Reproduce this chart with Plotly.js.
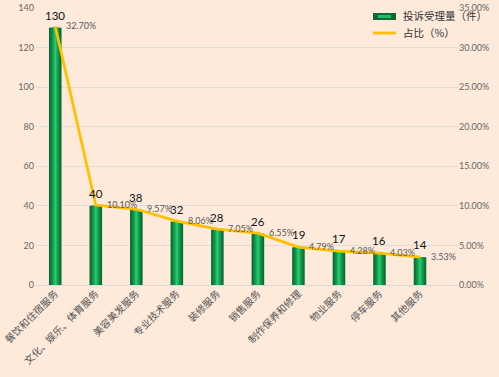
<!DOCTYPE html>
<html>
<head>
<meta charset="utf-8">
<script src="https://cdn.plot.ly/plotly-3.0.1.min.js"></script>
<style>html,body{margin:0;padding:0;background:#FDEADB;}#chart{width:499px;height:377px;}</style>
</head>
<body>
<div id="chart"></div>
<script>
const categories = ['餐饮和住宿服务','文化、娱乐、体育服务','美容美发服务','专业技术服务','装修服务','销售服务','制作保养和修理','物业服务','停车服务','其他服务'];
const counts = [130, 40, 38, 32, 28, 26, 19, 17, 16, 14];
const shares = [0.3270, 0.1010, 0.0957, 0.0806, 0.0706, 0.0655, 0.0479, 0.0428, 0.0403, 0.0353];
const shareLabels = ['32.70%','10.10%','9.57%','8.06%','7.05%','6.55%','4.79%','4.28%','4.03%','3.53%'];
const seriesNames = ['投诉受理量（件）', '占比（%）'];

const font = '"Noto Sans CJK SC", "Noto Sans", sans-serif';
const numFont = 'Lato, "Noto Sans", sans-serif';

// simulate gradient bars with overlaid bars of decreasing width
const layers = [
  {w:0.31, c:'#0B6B35'},
  {w:0.25, c:'#0E7A3D'},
  {w:0.19, c:'#119047'},
  {w:0.13, c:'#15A553'},
  {w:0.07, c:'#1DBE62'},
  {w:0.03, c:'#2ACB6E'}
];
const traces = layers.map((l) => ({
  type: 'bar',
  x: categories,
  y: counts,
  width: l.w,
  name: seriesNames[0],
  showlegend: false,
  marker: {color: l.c, line: {width: 0}},
  hoverinfo: 'skip'
}));
traces.push({
  type: 'scatter',
  mode: 'lines',
  x: categories,
  y: shares,
  yaxis: 'y2',
  name: seriesNames[1],
  showlegend: false,
  line: {color: '#FFC000', width: 2.8},
  cliponaxis: false
});

const annotations = [];
categories.forEach((c, i) => {
  annotations.push({
    x: c, y: counts[i], xref: 'x', yref: 'y',
    text: String(counts[i]), showarrow: false,
    xanchor: 'center', yanchor: 'bottom', yshift: 4,
    font: {family: numFont, size: 11.5, color: '#111'}
  });
  annotations.push({
    x: c, y: shares[i], xref: 'x', yref: 'y2',
    text: shareLabels[i], showarrow: false,
    xanchor: 'left', yanchor: 'middle', xshift: 9, yshift: 1,
    font: {family: numFont, size: 9, color: '#595959'}
  });
});
// custom legend (text stays real text)
annotations.push({
  x: 401, y: 16, xref: 'paper', yref: 'paper', text: seriesNames[0], showarrow: false,
  xanchor: 'left', yanchor: 'middle', font: {family: font, size: 10.5, color: '#333'}
});
annotations.push({
  x: 401, y: 33, xref: 'paper', yref: 'paper', text: seriesNames[1], showarrow: false,
  xanchor: 'left', yanchor: 'middle', font: {family: font, size: 10.5, color: '#333'}
});

const layout = {
  width: 499, height: 377,
  paper_bgcolor: '#FDEADB',
  plot_bgcolor: '#FDEADB',
  margin: {l: 35, r: 41, t: 8, b: 92},
  barmode: 'overlay',
  showlegend: false,
  xaxis: {
    tickangle: -45,
    tickfont: {family: font, size: 10, color: '#555'},
    showgrid: false, showline: false, ticks: ''
  },
  yaxis: {
    range: [0, 140], dtick: 20,
    tickfont: {family: numFont, size: 9, color: '#666'},
    gridcolor: '#E2DCD6', zeroline: true, zerolinecolor: '#D9D9D9', zerolinewidth: 1,
    ticks: '', showline: false
  },
  yaxis2: {
    overlaying: 'y', side: 'right',
    range: [0, 0.35], dtick: 0.05, tickformat: '.2%',
    tickfont: {family: numFont, size: 9, color: '#666'},
    showgrid: false, zeroline: false, ticks: '', showline: false
  },
  annotations: annotations,
  shapes: [
    {type: 'rect', xref: 'paper', yref: 'paper', x0: 373, x1: 396, y0: 13, y1: 20, fillcolor: '#0B6B35', line: {width: 0}},
    {type: 'rect', xref: 'paper', yref: 'paper', x0: 378, x1: 391, y0: 15, y1: 18, fillcolor: '#1DBE62', line: {width: 0}},
    {type: 'line', xref: 'paper', yref: 'paper', x0: 373, x1: 396, y0: 33, y1: 33, line: {color: '#FFC000', width: 2.8}}
  ]
};
// convert pixel legend coordinates to paper fractions
const pl = layout.margin.l, pw = layout.width - layout.margin.l - layout.margin.r;
const pt = layout.margin.t, ph = layout.height - layout.margin.t - layout.margin.b;
const fx = (px) => (px - pl) / pw;
const fy = (py) => 1 - (py - pt) / ph;
layout.shapes.forEach(s => { s.x0 = fx(s.x0); s.x1 = fx(s.x1); s.y0 = fy(s.y0); s.y1 = fy(s.y1); });
annotations.slice(-2).forEach(a => { a.x = fx(a.x); a.y = fy(a.y); });

Plotly.newPlot('chart', traces, layout, {displayModeBar: false, staticPlot: true});
</script>
</body>
</html>
